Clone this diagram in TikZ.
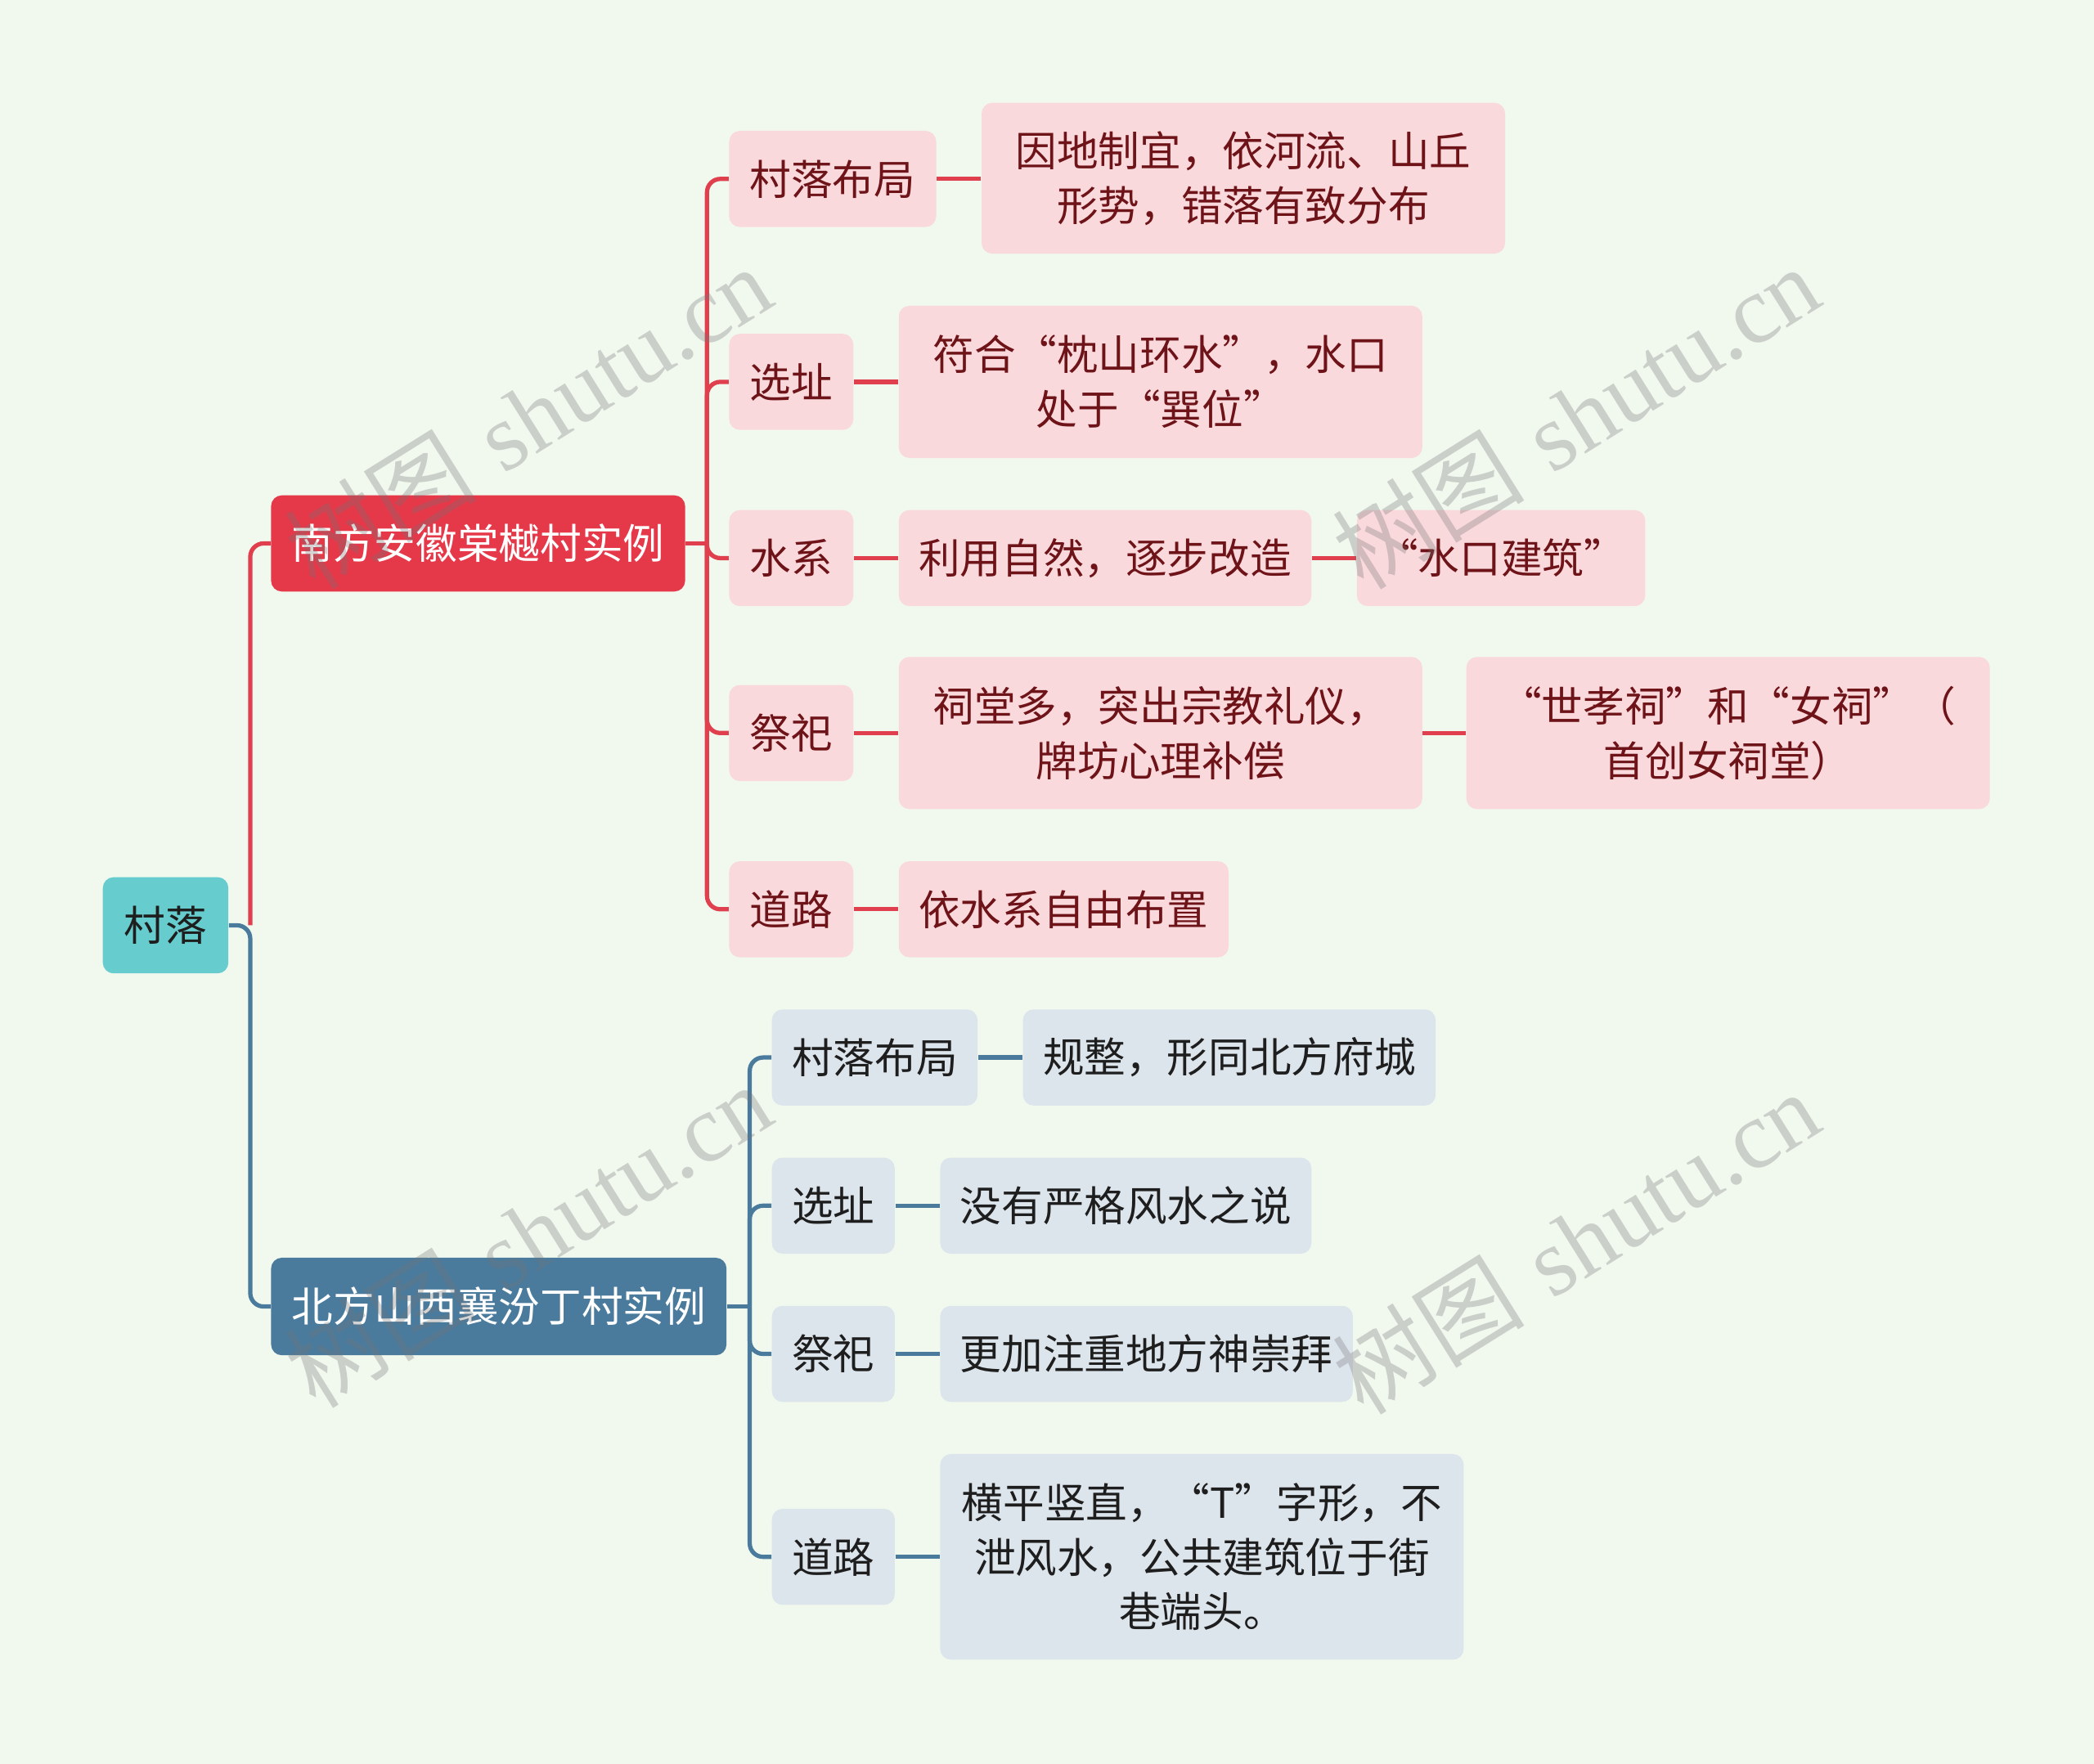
\documentclass[tikz,border=0pt]{standalone}
\usepackage{fontspec}
\newfontfamily\cjk{Noto Sans CJK SC}
\newfontfamily\wmserif{Liberation Serif}
\usetikzlibrary{calc}
\definecolor{bg}{HTML}{F1F9EF}
\definecolor{rootc}{HTML}{66CCCD}
\definecolor{redm}{HTML}{E5394A}
\definecolor{pinkc}{HTML}{FAD9DD}
\definecolor{redt}{HTML}{6E1419}
\definecolor{bluem}{HTML}{4A7B9D}
\definecolor{bluec}{HTML}{DDE5EC}
\definecolor{darkt}{HTML}{1E1E1E}
\definecolor{redl}{HTML}{E0404E}
\tikzset{
 box/.style={rectangle, rounded corners=4pt, inner sep=0pt, align=center, font=\cjk\fontsize{15.5}{20.5}\selectfont},
 rootbox/.style={box, fill=rootc, text=darkt},
 smainbox/.style={box, fill=redm, text=white},
 nmainbox/.style={box, fill=bluem, text=white},
 sbox/.style={box, fill=pinkc, text=redt},
 nbox/.style={box, fill=bluec, text=darkt},
 rlink/.style={draw=redl, line width=1.6pt, rounded corners=5pt},
 blink/.style={draw=bluem, line width=1.6pt, rounded corners=5pt},
 wm/.style={rotate=32, text=black!55, text opacity=0.3, font=\fontsize{36}{36}\selectfont},
}
\begin{document}
\begin{tikzpicture}[x=1pt,y=-1pt]
\fill[bg] (0,0) rectangle (784,660.5);
\useasboundingbox (0,0) rectangle (784,660.5);
% main nodes
\node[rootbox, minimum width=47pt, minimum height=36pt] (root) at (62,346.5) {村落};
\node[smainbox, minimum width=155pt, minimum height=36pt] (S) at (179,203.5) {南方安徽棠樾村实例};
\node[nmainbox, minimum width=170.5pt, minimum height=36.5pt] (N) at (186.75,489.25) {北方山西襄汾丁村实例};
% south children
\node[sbox, minimum width=77.5pt, minimum height=36pt] (s1) at (311.75,67) {村落布局};
\node[sbox, minimum width=46.5pt, minimum height=36pt] (s2) at (296.25,143) {选址};
\node[sbox, minimum width=46.5pt, minimum height=36pt] (s3) at (296.25,209) {水系};
\node[sbox, minimum width=46.5pt, minimum height=36pt] (s4) at (296.25,274.5) {祭祀};
\node[sbox, minimum width=46.5pt, minimum height=36pt] (s5) at (296.25,340.5) {道路};
% south grandchildren
\node[sbox, minimum width=196pt, minimum height=56.5pt] (g1) at (465.5,66.75) {因地制宜，依河流、山丘\\形势，错落有致分布};
\node[sbox, minimum width=196pt, minimum height=57pt] (g2) at (434.5,143) {符合“枕山环水”，水口\\处于“巽位”};
\node[sbox, minimum width=154.5pt, minimum height=36pt] (g3) at (413.75,209) {利用自然，逐步改造};
\node[sbox, minimum width=108pt, minimum height=36pt] (g3b) at (562,209) {“水口建筑”};
\node[sbox, minimum width=196pt, minimum height=57pt] (g4) at (434.5,274.5) {祠堂多，突出宗教礼仪，\\牌坊心理补偿};
\node[sbox, minimum width=196pt, minimum height=57pt] (g4b) at (647,274.5) {“世孝祠”和“女祠”（\\首创女祠堂）};
\node[sbox, minimum width=123.5pt, minimum height=36pt] (g5) at (398.25,340.5) {依水系自由布置};
% north children
\node[nbox, minimum width=77pt, minimum height=36pt] (n1) at (327.5,396) {村落布局};
\node[nbox, minimum width=46pt, minimum height=36pt] (n2) at (312,451.5) {选址};
\node[nbox, minimum width=46pt, minimum height=36pt] (n3) at (312,507) {祭祀};
\node[nbox, minimum width=46pt, minimum height=36pt] (n4) at (312,583) {道路};
% north grandchildren
\node[nbox, minimum width=154.5pt, minimum height=36pt] (m1) at (460.25,396) {规整，形同北方府城};
\node[nbox, minimum width=139pt, minimum height=36pt] (m2) at (421.5,451.5) {没有严格风水之说};
\node[nbox, minimum width=154.5pt, minimum height=36pt] (m3) at (429.25,507) {更加注重地方神崇拜};
\node[nbox, minimum width=196pt, minimum height=77pt] (m4) at (450,583) {横平竖直，“T”字形，不\\泄风水，公共建筑位于街\\巷端头。};
% root connectors
\coordinate (rt) at ($(root.east)+(8pt,0)$);
\draw[rlink] (rt) |- (S.west);
\draw[blink] (root.east) -- (rt) |- (N.west);
% south connectors
\coordinate (st) at ($(S.east)+(8pt,0)$);
\draw[rlink] (S.east) -- (st);
\foreach \c in {s1,s2,s3,s4,s5} \draw[rlink] (st) |- (\c.west);
\draw[rlink] (s1.east) -- (s1.east -| g1.west);
\draw[rlink] (s2.east) -- (s2.east -| g2.west);
\draw[rlink] (s3.east) -- (s3.east -| g3.west);
\draw[rlink] (g3.east) -- (g3.east -| g3b.west);
\draw[rlink] (s4.east) -- (s4.east -| g4.west);
\draw[rlink] (g4.east) -- (g4.east -| g4b.west);
\draw[rlink] (s5.east) -- (s5.east -| g5.west);
% north connectors
\coordinate (nt) at ($(N.east)+(8.5pt,0)$);
\draw[blink] (N.east) -- (nt);
\foreach \c in {n1,n2,n3,n4} \draw[blink] (nt) |- (\c.west);
\draw[blink] (n1.east) -- (n1.east -| m1.west);
\draw[blink] (n2.east) -- (n2.east -| m2.west);
\draw[blink] (n3.east) -- (n3.east -| m3.west);
\draw[blink] (n4.east) -- (n4.east -| m4.west);
% watermarks
\node[wm] (w1) at (197.5,156) {{\cjk 树图} {\wmserif shutu.cn}};
\node[wm] (w2) at (590,156) {{\cjk 树图} {\wmserif shutu.cn}};
\node[wm] (w3) at (197.5,462.5) {{\cjk 树图} {\wmserif shutu.cn}};
\node[wm] (w4) at (590,465) {{\cjk 树图} {\wmserif shutu.cn}};
\end{tikzpicture}
\end{document}
